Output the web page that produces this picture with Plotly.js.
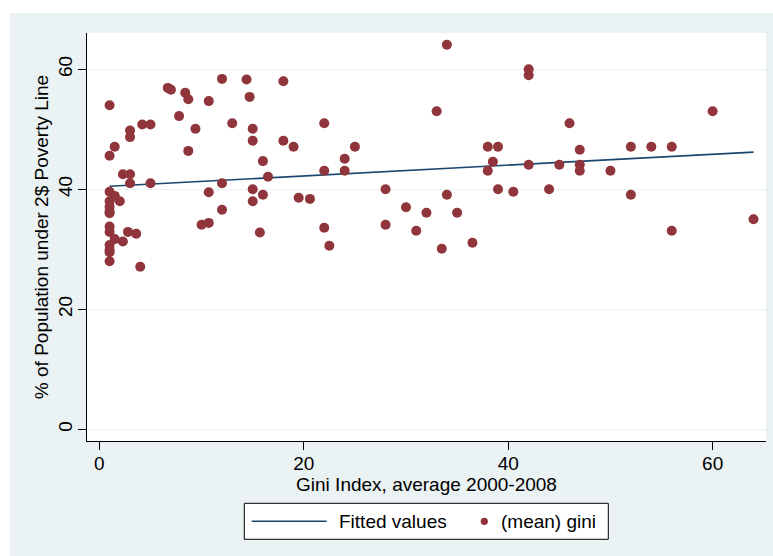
<!DOCTYPE html>
<html>
<head>
<meta charset="utf-8">
<script src="https://cdn.plot.ly/plotly-3.0.1.min.js"></script>
<style>
  html, body { margin: 0; padding: 0; background: #ffffff; width: 773px; height: 556px; overflow: hidden; }
  #chart { position: absolute; left: 10px; top: 13px; width: 763px; height: 543px; }
</style>
</head>
<body>
<div id="chart"></div>
<script>
// Scatter data: Gini index (x) vs % of population under 2$ poverty line (y)
var giniX = [
  1, 6.7, 7, 8.4, 8.7, 12, 14.4, 18, 10.7, 14.7,
  7.8, 3, 3, 4.2, 5, 9.4, 13, 15, 15, 18,
  19, 22, 1.5, 1, 8.7, 16, 2.3, 3, 3, 5,
  12, 16.5, 22, 1, 1.5, 2, 1, 1, 1, 1,
  10.7, 15, 15, 16, 19.5, 20.6, 12, 10, 10.7, 15.7,
  22, 22.5, 1, 1, 2.8, 3.6, 1.5, 2.3, 1, 1,
  1, 1, 4,
  34, 42, 42, 33, 60, 46, 25, 24, 24, 38,
  39, 38.5, 38, 42, 45, 47, 47, 47, 50, 52,
  54, 56, 52, 28, 34, 39, 40.5, 44, 30, 32,
  35, 28, 31, 56, 64, 33.5, 36.5
];
var povertyY = [
  54.0, 56.9, 56.6, 56.1, 55.0, 58.4, 58.3, 58.0, 54.7, 55.4,
  52.2, 49.8, 48.7, 50.8, 50.8, 50.1, 51.0, 50.1, 48.1, 48.1,
  47.1, 51.0, 47.1, 45.6, 46.4, 44.7, 42.5, 42.5, 41.0, 41.0,
  41.0, 42.1, 43.1, 39.6, 38.9, 38.0, 38.0, 37.1, 36.3, 36.0,
  39.5, 40.0, 38.0, 39.1, 38.6, 38.4, 36.6, 34.1, 34.4, 32.8,
  33.6, 30.6, 33.8, 32.9, 32.9, 32.6, 31.7, 31.3, 30.7, 29.9,
  29.5, 28.0, 27.1,
  64.1, 60.0, 59.0, 53.0, 53.0, 51.0, 47.1, 45.1, 43.1, 47.1,
  47.1, 44.6, 43.1, 44.1, 44.1, 46.6, 44.1, 43.1, 43.1, 47.1,
  47.1, 47.1, 39.1, 40.0, 39.1, 40.0, 39.6, 40.0, 37.0, 36.1,
  36.1, 34.1, 33.1, 33.1, 35.0, 30.1, 31.1
];
// Fitted values (linear fit) read at the ends of the data range
var fitX = [1, 64];
var fitY = [40.5, 46.2];
var xTicks = [0, 20, 40, 60];
var yTicks = [0, 20, 40, 60];
var legendLabels = ["Fitted values", "(mean) gini"];

var FONT = "Liberation Sans, Arial, sans-serif";
var MAROON = "#90353b";
var NAVY = "#1a476f";
var BG = "#eaf2f3";

// Layout geometry (page pixel -> paper coordinates)
var W = 763, H = 543, ML = 77, MR = 7, MT = 20, MB = 115;
var offX = 10, offY = 13;
var PW = W - ML - MR, PH = H - MT - MB;
function px(xp) { return (xp - offX - ML) / PW; }
function py(yp) { return (H - MB - (yp - offY)) / PH; }

var traces = [
  {
    type: "scatter", mode: "lines", x: fitX, y: fitY,
    line: { color: NAVY, width: 1.6 }, name: legendLabels[0],
    hoverinfo: "skip", showlegend: false
  },
  {
    type: "scatter", mode: "markers", x: giniX, y: povertyY,
    marker: { color: MAROON, size: 10, line: { width: 0 } },
    name: legendLabels[1], showlegend: false, cliponaxis: false
  }
];

var dotR = 3.6;
var layout = {
  width: W, height: H,
  margin: { l: ML, r: MR, t: MT, b: MB, pad: 0 },
  paper_bgcolor: BG,
  plot_bgcolor: "#ffffff",
  font: { family: FONT, size: 19, color: "#000000" },
  showlegend: false,
  xaxis: {
    range: [-1.21, 65.22],
    tickvals: xTicks, ticktext: xTicks.map(String),
    ticks: "outside", ticklen: 8, tickwidth: 1, tickcolor: "#000000",
    ticklabelstandoff: -3,
    showline: true, linecolor: "#000000", linewidth: 1,
    showgrid: false, zeroline: false,
    tickfont: { family: FONT, size: 19, color: "#000000" },
    title: { text: "Gini Index, average 2000-2008", standoff: 0,
             font: { family: FONT, size: 19, color: "#000000" } }
  },
  yaxis: {
    range: [-1.95, 66.05],
    tickvals: yTicks, ticktext: yTicks.map(String),
    tickangle: -90,
    ticks: "outside", ticklen: 8, tickwidth: 1, tickcolor: "#000000",
    ticklabelstandoff: -2,
    showline: true, linecolor: "#000000", linewidth: 1,
    showgrid: true, gridcolor: BG, gridwidth: 1.2, zeroline: false,
    tickfont: { family: FONT, size: 19, color: "#000000" },
    title: { text: "% of Population under 2$ Poverty Line", standoff: 1,
             font: { family: FONT, size: 19, color: "#000000" } }
  },
  shapes: [
    { type: "rect", xref: "paper", yref: "paper",
      x0: px(244.3), x1: px(608.3), y0: py(539.3), y1: py(503.3),
      fillcolor: "#ffffff", line: { color: "#000000", width: 1 }, layer: "above" },
    { type: "line", xref: "paper", yref: "paper",
      x0: px(251.7), x1: px(326.7), y0: py(521.3), y1: py(521.3),
      line: { color: NAVY, width: 1.6 }, layer: "above" },
    { type: "circle", xref: "paper", yref: "paper",
      x0: px(484.3 - dotR), x1: px(484.3 + dotR), y0: py(521.3 + dotR), y1: py(521.3 - dotR),
      fillcolor: MAROON, line: { width: 0 }, layer: "above" }
  ],
  annotations: [
    { xref: "paper", yref: "paper", x: px(337.3), y: py(521.3),
      xanchor: "left", yanchor: "middle", showarrow: false,
      text: legendLabels[0], font: { family: FONT, size: 19, color: "#000000" } },
    { xref: "paper", yref: "paper", x: px(499), y: py(521.3),
      xanchor: "left", yanchor: "middle", showarrow: false,
      text: legendLabels[1], font: { family: FONT, size: 19, color: "#000000" } }
  ]
};

Plotly.newPlot("chart", traces, layout, { displayModeBar: false, staticPlot: true });
</script>
</body>
</html>
